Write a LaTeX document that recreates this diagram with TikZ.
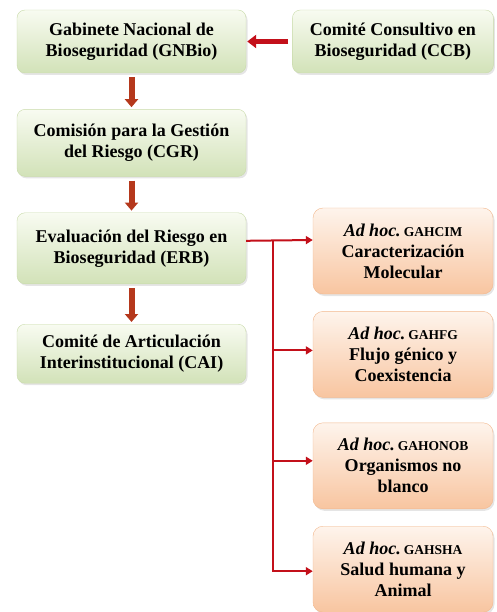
\documentclass[tikz,border=0pt]{standalone}
\usepackage{fontspec}
\setmainfont{Liberation Serif}[
    BoldFont={Liberation Serif Bold},
    BoldItalicFont={Liberation Serif Bold Italic}]
\usetikzlibrary{
    arrows.meta,
    positioning,
    shadows
}

\definecolor{greentop}{HTML}{F8FBF1}
\definecolor{greenbot}{HTML}{D2E2B8}
\definecolor{greenline}{HTML}{C9DBAA}
\definecolor{orangetop}{HTML}{FEF4EC}
\definecolor{orangebot}{HTML}{F8C5A0}
\definecolor{orangeline}{HTML}{F2B88E}
\definecolor{arrowbrown}{HTML}{B5381C}
\definecolor{arrowred}{HTML}{C3101A}

\newcommand{\adhoc}[1]{{\itshape Ad hoc.}\,{\fontsize{13.5}{21}\selectfont #1}}

\begin{document}
\begin{tikzpicture}[
    x=1pt, y=1pt,
    node distance=36pt,
    font=\fontsize{18}{21}\selectfont\bfseries,
    council/.style={rectangle, rounded corners=8pt, draw=greenline, top color=greentop, bottom color=greenbot, align=center, minimum width=229pt, drop shadow={shadow xshift=1.5pt, shadow yshift=-2pt, opacity=.25, fill=black!40}},
    adhocbox/.style={rectangle, rounded corners=10pt, draw=orangeline, top color=orangetop, bottom color=orangebot, align=center, minimum width=180pt, minimum height=86pt, drop shadow={shadow xshift=1.5pt, shadow yshift=-2pt, opacity=.25, fill=black!40}},
    down/.style={draw=arrowbrown, line width=6pt, -{Triangle[length=8pt,width=13pt]}, shorten <=4pt, shorten >=2pt},
    left arrow/.style={draw=arrowred, line width=5.5pt, -{Triangle[length=9pt,width=13pt]}, shorten <=4pt, shorten >=1pt},
    branch/.style={draw=arrowred, line width=2pt, -{Triangle[length=7pt,width=8pt]}}
]

    \useasboundingbox (0,0) rectangle (496,-612);

    % Main chain
    \node (gnbio) [council, minimum height=63pt] at (131.5,-41.5) {Gabinete Nacional de\\Bioseguridad (GNBio)};
    \node (ccb) [council, minimum width=201pt, minimum height=63pt, right=46pt of gnbio] {Comité Consultivo en\\Bioseguridad (CCB)};
    \node (cgr) [council, minimum height=67pt, below=of gnbio] {Comisión para la Gestión\\del Riesgo (CGR)};
    \node (erb) [council, minimum height=71pt, below=of cgr] {Evaluación del Riesgo en\\Bioseguridad (ERB)};
    \node (cai) [council, minimum height=59pt, below=40pt of erb] {Comité de Articulación\\Interinstitucional (CAI)};

    % Ad hoc groups
    \node (gahcim) [adhocbox] at (403,-251) {\adhoc{GAHCIM}\\Caracterización\\Molecular};
    \node (gahfg) [adhocbox, below=17pt of gahcim] {\adhoc{GAHFG}\\Flujo génico y\\Coexistencia};
    \node (gahonob) [adhocbox, below=25pt of gahfg] {\adhoc{GAHONOB}\\Organismos no\\blanco};
    \node (gahsha) [adhocbox, below=17pt of gahonob] {\adhoc{GAHSHA}\\Salud humana y\\Animal};

    % Arrows
    \draw [left arrow] (ccb) -- (gnbio);
    \draw [down] (gnbio) -- (cgr);
    \draw [down] (cgr) -- (erb);
    \draw [down] (erb) -- (cai);

    % Branches
    \coordinate (split) at (273,-240);
    \draw [branch] ([yshift=7.5pt]erb.east) -- ([yshift=11pt]gahcim.west);
    \foreach \grp/\dy in {gahfg/4, gahonob/5, gahsha/-2}
        \draw [branch] (split) |- ([yshift=\dy pt]\grp.west);

\end{tikzpicture}
\end{document}
